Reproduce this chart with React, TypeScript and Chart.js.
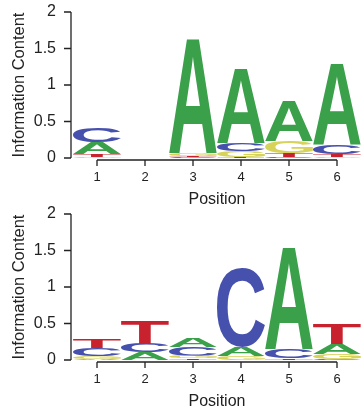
import React, { useEffect, useRef } from "react";
import { Chart, registerables } from "chart.js";

Chart.register(...registerables);

// ---- data ----
const positions = ["1", "2", "3", "4", "5", "6"];
const letters = ["A", "C", "G", "T"];
const yTicks = [0, 0.5, 1, 1.5, 2];

// top logo: information (bits) carried by each base at each position
const topA = [0.157, 0.003, 1.58, 1.02, 0.55, 1.11];
const topC = [0.19, 0.006, 0.01, 0.11, 0.008, 0.115];
const topG = [0.015, 0.004, 0.03, 0.08, 0.16, 0.01];
const topT = [0.04, 0.002, 0.02, 0.01, 0.055, 0.04];

// bottom logo
const botA = [0.02, 0.1, 0.13, 0.12, 1.39, 0.14];
const botC = [0.11, 0.12, 0.115, 1.09, 0.12, 0.015];
const botG = [0.03, 0.005, 0.04, 0.05, 0.005, 0.065];
const botT = [0.12, 0.31, 0.02, 0.005, 0.015, 0.28];

const letterColors: Record<string, string> = {
  A: "#3aa04a",
  C: "#4650ad",
  G: "#d6d25a",
  T: "#c8222e",
};

const W = 361;
const H = 210;
const FONT = "'Liberation Sans', Arial, sans-serif";

// floating ranges: letters sorted by height, smallest at bottom
function buildRanges(series: number[][]) {
  const out: [number, number][][] = series.map(() => []);
  positions.forEach((_, p) => {
    const order = series
      .map((s, i) => ({ i, v: s[p] }))
      .sort((a, b) => a.v - b.v);
    let acc = 0;
    order.forEach(({ i, v }) => {
      out[i][p] = [acc, acc + v];
      acc += v;
    });
  });
  return out;
}

const glyphPlugin = {
  id: "glyphs",
  afterDatasetsDraw(chart: any) {
    const ctx: CanvasRenderingContext2D = chart.ctx;
    chart.data.datasets.forEach((ds: any, di: number) => {
      const meta = chart.getDatasetMeta(di);
      const letter = ds.label;
      ctx.save();
      ctx.font = "bold 200px " + FONT;
      ctx.textAlign = "left";
      ctx.textBaseline = "alphabetic";
      const m = ctx.measureText(letter);
      const gl = m.actualBoundingBoxLeft;
      const gw = m.actualBoundingBoxLeft + m.actualBoundingBoxRight;
      const ga = m.actualBoundingBoxAscent;
      const gh = m.actualBoundingBoxAscent + m.actualBoundingBoxDescent;
      ctx.fillStyle = letterColors[letter];
      meta.data.forEach((el: any) => {
        const { x, y, base, width } = el.getProps(["x", "y", "base", "width"], true);
        const top = Math.min(y, base);
        const h = Math.abs(base - y);
        if (h <= 0.05) return;
        const left = x - width / 2;
        ctx.save();
        ctx.translate(left, top);
        ctx.scale(width / gw, h / gh);
        ctx.fillText(letter, gl, ga);
        ctx.restore();
      });
      ctx.restore();
    });
  },
};

const axesPlugin = {
  id: "rAxes",
  afterDraw(chart: any) {
    const ctx: CanvasRenderingContext2D = chart.ctx;
    const xs = chart.scales.x;
    const ys = chart.scales.y;
    const ax = chart.chartArea.left - 2;
    const ay = ys.getPixelForValue(0) + 2;
    ctx.save();
    ctx.strokeStyle = "#222";
    ctx.lineWidth = 1.3;
    ctx.beginPath();
    ctx.moveTo(ax, ys.getPixelForValue(yTicks[0]));
    ctx.lineTo(ax, ys.getPixelForValue(yTicks[yTicks.length - 1]));
    yTicks.forEach((t) => {
      const py = ys.getPixelForValue(t);
      ctx.moveTo(ax - 7, py);
      ctx.lineTo(ax, py);
    });
    const x0 = xs.getPixelForValue(0);
    const x1 = xs.getPixelForValue(positions.length - 1);
    ctx.moveTo(x0, ay);
    ctx.lineTo(x1, ay);
    positions.forEach((_, i) => {
      const px = xs.getPixelForValue(i);
      ctx.moveTo(px, ay);
      ctx.lineTo(px, ay + 6);
    });
    ctx.stroke();
    ctx.restore();
  },
};

function Logo({ series }: { series: number[][] }) {
  const ref = useRef<HTMLCanvasElement>(null);
  useEffect(() => {
    if (!ref.current) return;
    const ranges = buildRanges(series);
    const chart = new Chart(ref.current, {
      type: "bar",
      data: {
        labels: positions,
        datasets: letters.map((l, i) => ({
          label: l,
          data: ranges[i] as any,
          backgroundColor: "rgba(0,0,0,0)",
          borderWidth: 0,
          barPercentage: 1,
          categoryPercentage: 1,
          grouped: false,
        })),
      },
      options: {
        responsive: false,
        animation: false,
        events: [],
        layout: { padding: { top: 12, left: 0, right: 0, bottom: 0 } },
        plugins: { legend: { display: false }, tooltip: { enabled: false } },
        scales: {
          x: {
            grid: { display: false, drawTicks: false },
            border: { display: false },
            ticks: {
              padding: 12,
              color: "#222",
              font: { family: FONT, size: 13 },
            },
            title: {
              display: true,
              text: "Position",
              color: "#222",
              padding: { top: 0, bottom: 1 },
              font: { family: FONT, size: 16 },
            },
            afterFit(s: any) {
              s.height = H - 158;
              s.paddingLeft = 0;
              s.paddingRight = 0;
            },
          },
          y: {
            min: 0,
            max: 2,
            grid: { display: false, drawTicks: false },
            border: { display: false },
            afterBuildTicks(s: any) {
              s.ticks = yTicks.map((v) => ({ value: v }));
            },
            ticks: {
              padding: 17,
              color: "#222",
              font: { family: FONT, size: 16 },
              callback: (v: any) => String(v),
            },
            title: {
              display: true,
              text: "Information Content",
              color: "#222",
              padding: { top: 10, bottom: 0 },
              font: { family: FONT, size: 16.5 },
            },
            afterFit(s: any) {
              s.width = 73;
              s.paddingTop = 0;
              s.paddingBottom = 0;
            },
          },
        },
      },
      plugins: [glyphPlugin, axesPlugin],
    });
    return () => chart.destroy();
  }, [series]);
  return <canvas ref={ref} width={W} height={H} style={{ display: "block" }} />;
}

const topSeries = [topA, topC, topG, topT];
const botSeries = [botA, botC, botG, botT];

export default function App() {
  return (
    <div style={{ position: "fixed", left: 0, top: 0, width: W, height: 412, background: "#fff" }}>
      <div style={{ position: "absolute", left: 0, top: 0 }}>
        <Logo series={topSeries} />
      </div>
      <div style={{ position: "absolute", left: 0, top: 202 }}>
        <Logo series={botSeries} />
      </div>
    </div>
  );
}
